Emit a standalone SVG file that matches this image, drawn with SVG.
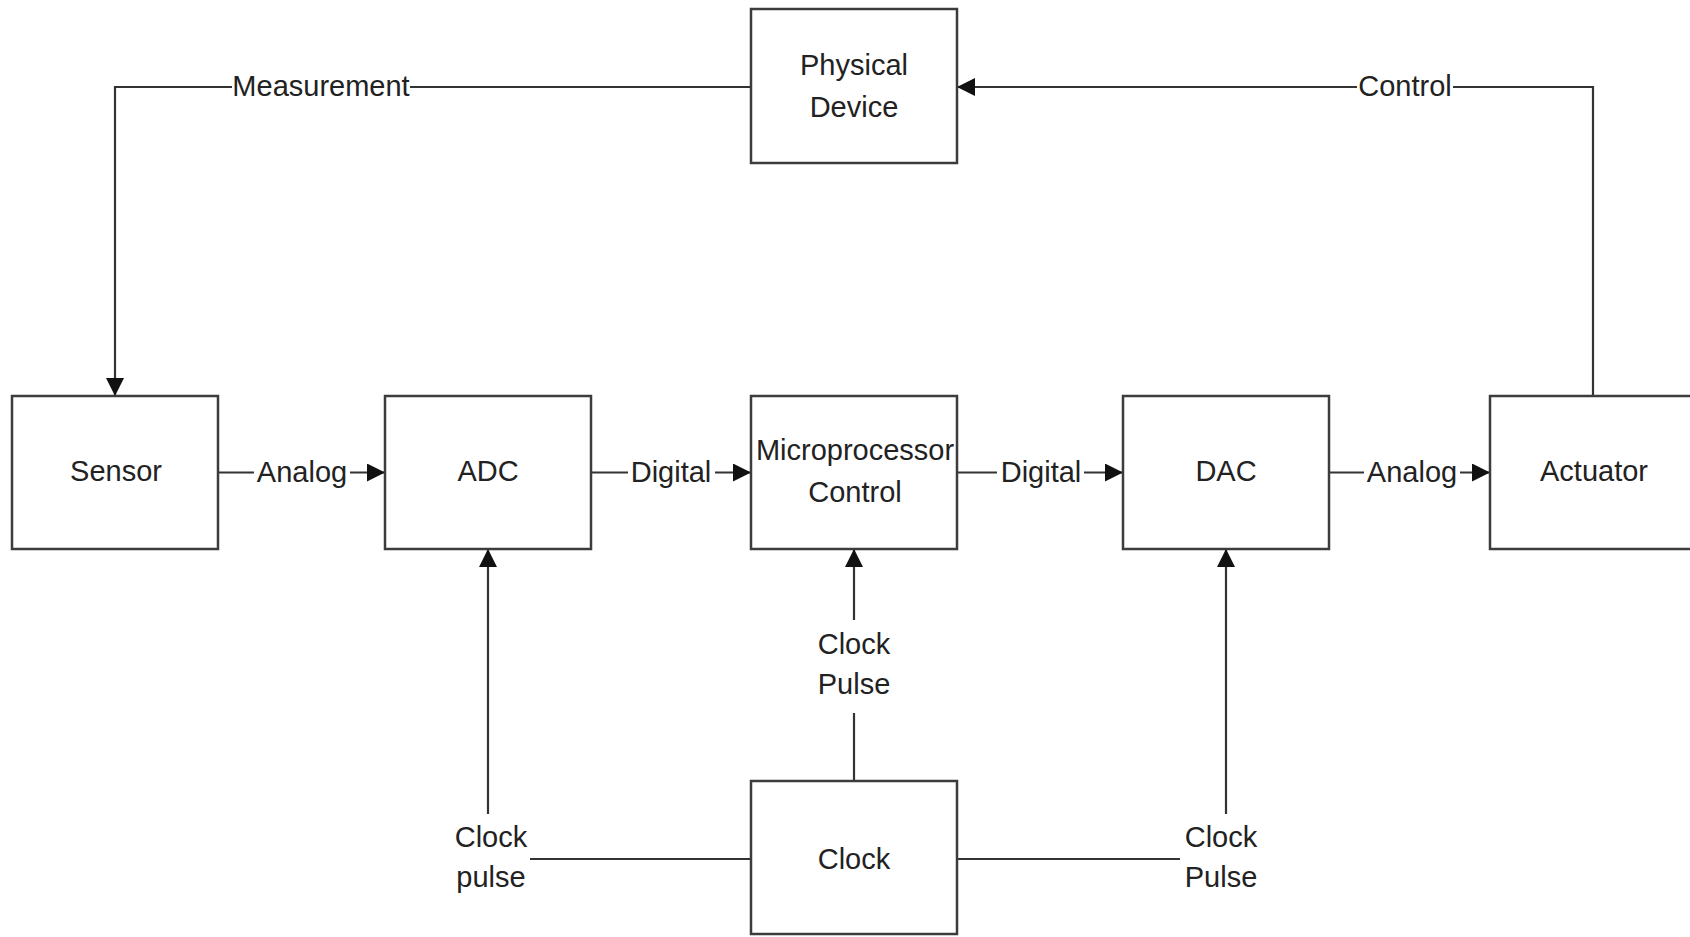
<svg xmlns="http://www.w3.org/2000/svg" width="1690" height="937" viewBox="0 0 1690 937">
<style>
.box{fill:#fff;stroke:#3c3c3c;stroke-width:2.5}
.ln{fill:none;stroke:#333;stroke-width:2.2}
.bg{fill:#fff;stroke:none}
text{font-family:"Liberation Sans",Arial,sans-serif;font-size:29px;fill:#222;text-anchor:middle;dominant-baseline:central}
</style>
<defs>
<marker id="arr" markerUnits="userSpaceOnUse" markerWidth="20" markerHeight="20" refX="18" refY="9" orient="auto">
<path d="M0,0 L18,9 L0,18 Z" fill="#111"/>
</marker>
</defs>
<rect width="1690" height="937" fill="#fff"/>
<g id="connectors">
<path class="ln" d="M751,87 H115 V396" marker-end="url(#arr)"/>
<path class="ln" d="M1593,396 V87 H957" marker-end="url(#arr)"/>
<path class="ln" d="M218,472.5 H385" marker-end="url(#arr)"/>
<path class="ln" d="M591,472.5 H751" marker-end="url(#arr)"/>
<path class="ln" d="M957,472.5 H1123" marker-end="url(#arr)"/>
<path class="ln" d="M1329,472.5 H1490" marker-end="url(#arr)"/>
<path class="ln" d="M854,781 V549" marker-end="url(#arr)"/>
<path class="ln" d="M751,859 H488 V549" marker-end="url(#arr)"/>
<path class="ln" d="M957,859 H1226 V549" marker-end="url(#arr)"/>
<rect class="bg" x="232" y="70" width="178" height="32"/>
<text x="321" y="86">Measurement</text>
<rect class="bg" x="1357" y="70" width="96" height="32"/>
<text x="1405" y="86">Control</text>
<rect class="bg" x="254" y="456" width="96" height="32"/>
<text x="302" y="472">Analog</text>
<rect class="bg" x="628" y="456" width="87" height="32"/>
<text x="671" y="472">Digital</text>
<rect class="bg" x="997" y="456" width="87" height="32"/>
<text x="1041" y="472">Digital</text>
<rect class="bg" x="1364" y="456" width="96" height="32"/>
<text x="1412" y="472">Analog</text>
<rect class="bg" x="815" y="620" width="78" height="93"/>
<text x="854" y="644">Clock</text>
<text x="854" y="684">Pulse</text>
<rect class="bg" x="452" y="814" width="78" height="88"/>
<text x="491" y="837">Clock</text>
<text x="491" y="877">pulse</text>
<rect class="bg" x="1180" y="814" width="80" height="88"/>
<text x="1221" y="837">Clock</text>
<text x="1221" y="877">Pulse</text>
</g>
<g id="physical-device">
<rect class="box" x="751" y="9" width="206" height="154"/>
<text x="854" y="65">Physical</text>
<text x="854" y="107">Device</text>
</g>
<g id="sensor">
<rect class="box" x="12" y="396" width="206" height="153"/>
<text x="116" y="471">Sensor</text>
</g>
<g id="adc">
<rect class="box" x="385" y="396" width="206" height="153"/>
<text x="488" y="471">ADC</text>
</g>
<g id="microprocessor">
<rect class="box" x="751" y="396" width="206" height="153"/>
<text x="855" y="450">Microprocessor</text>
<text x="855" y="492">Control</text>
</g>
<g id="dac">
<rect class="box" x="1123" y="396" width="206" height="153"/>
<text x="1226" y="471">DAC</text>
</g>
<g id="actuator">
<rect class="box" x="1490" y="396" width="206" height="153"/>
<text x="1594" y="471">Actuator</text>
</g>
<g id="clock">
<rect class="box" x="751" y="781" width="206" height="153"/>
<text x="854" y="859">Clock</text>
</g>
</svg>
